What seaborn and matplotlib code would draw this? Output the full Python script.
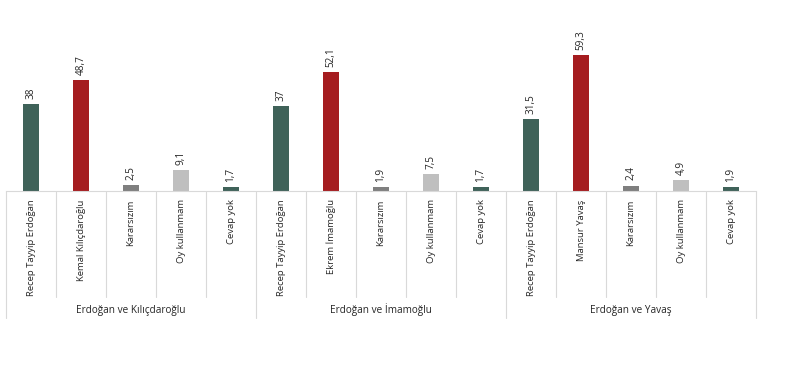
import matplotlib
matplotlib.use("Agg")
import matplotlib.pyplot as plt
import matplotlib.transforms as mtransforms
import seaborn as sns
import pandas as pd

groups = ["Erdoğan ve Kılıçdaroğlu", "Erdoğan ve İmamoğlu", "Erdoğan ve Yavaş"]
labels = [
    "Recep Tayyip Erdoğan", "Kemal Kılıçdaroğlu", "Kararsızım", "Oy kullanmam", "Cevap yok",
    "Recep Tayyip Erdoğan", "Ekrem İmamoğlu", "Kararsızım", "Oy kullanmam", "Cevap yok",
    "Recep Tayyip Erdoğan", "Mansur Yavaş", "Kararsızım", "Oy kullanmam", "Cevap yok",
]
values = [38, 48.7, 2.5, 9.1, 1.7,
          37, 52.1, 1.9, 7.5, 1.7,
          31.5, 59.3, 2.4, 4.9, 1.9]
value_text = ["38", "48,7", "2,5", "9,1", "1,7",
              "37", "52,1", "1,9", "7,5", "1,7",
              "31,5", "59,3", "2,4", "4,9", "1,9"]

green, red, dgray, lgray = "#3F6259", "#A51C1F", "#7F7F7F", "#BFBFBF"
group_colors = [green, red, dgray, lgray, green]
colors = group_colors * 3

sns.set_theme(style="white")
plt.rcParams["font.family"] = ["Open Sans", "DejaVu Sans"]

df = pd.DataFrame({"pos": [str(i) for i in range(len(values))], "value": values})

fig = plt.figure(figsize=(8, 3.66), dpi=100)
ax = fig.add_axes([6 / 800, 1 - 191 / 366, 750 / 800, 160 / 366])
sns.barplot(data=df, x="pos", y="value", hue="pos", palette=colors, saturation=1,
            legend=False, width=0.32, ax=ax, edgecolor="none")
ax.set_ylim(0, 70)
ax.set_xlim(-0.5, len(values) - 0.5)
ax.set_xlabel("")
ax.set_ylabel("")
ax.set_yticks([])
ax.set_xticks(range(len(values)))
ax.set_xticklabels(labels, rotation=90, fontsize=6.8, color="#262626", va="top")
ax.tick_params(axis="x", length=0, pad=6)
for s in ["top", "left", "right"]:
    ax.spines[s].set_visible(False)
ax.spines["bottom"].set_color("#D9D9D9")
ax.spines["bottom"].set_linewidth(0.8)

# value labels above the bars
for i, (v, t) in enumerate(zip(values, value_text)):
    ax.text(i, v + 2.2, t, rotation=90, ha="center", va="bottom",
            fontsize=7.2, color="#262626")

# category separators below the axis
trans = mtransforms.blended_transform_factory(ax.transData, fig.transFigure)
for k in range(len(values) + 1):
    x = k - 0.5
    y_end = 1 - 318 / 366 if k % 5 == 0 else 1 - 297 / 366
    ax.plot([x, x], [1 - 191 / 366, y_end], transform=trans, color="#D9D9D9",
            lw=0.8, clip_on=False)

for g, name in enumerate(groups):
    ax.text(g * 5 + 2, 1 - 310 / 366, name, transform=trans, ha="center",
            va="center", fontsize=7.2, color="#262626")

fig.savefig("out.png", dpi=100)
